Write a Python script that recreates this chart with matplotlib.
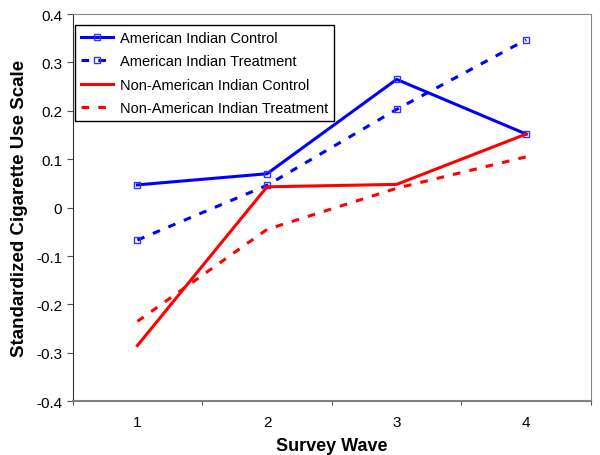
import matplotlib
matplotlib.use("Agg")
import matplotlib.pyplot as plt
import numpy as np

plt.rcParams['font.family'] = ['Liberation Sans', 'DejaVu Sans']

waves = [1, 2, 3, 4]
ai_control = [0.047, 0.070, 0.265, 0.152]
ai_treatment = [-0.067, 0.046, 0.203, 0.347]
nai_control = [-0.285, 0.043, 0.048, 0.152]
nai_treatment = [-0.235, -0.045, 0.040, 0.105]
yticks = [-0.4, -0.3, -0.2, -0.1, 0, 0.1, 0.2, 0.3, 0.4]
ytick_labels = ['-0.4', '-0.3', '-0.2', '-0.1', '0', '0.1', '0.2', '0.3', '0.4']

fig = plt.figure(figsize=(6, 4.56), dpi=100)
ax = fig.add_axes([0.121, 0.118, 0.864, 0.849])

lw = 2.2
ax.plot(waves, ai_control, color='#0000ff', lw=lw, marker='s', ms=5,
        mfc='none', mec='#3333ff', mew=1, label='American Indian Control')
ax.plot(waves, ai_treatment, color='#0000ff', lw=lw, ls=(0, (2.5, 3)), marker='s', ms=5,
        mfc='none', mec='#3333ff', mew=1, label='American Indian Treatment')
ax.plot(waves, nai_control, color='#ff0000', lw=lw, label='Non-American Indian Control')
ax.plot(waves, nai_treatment, color='#ff0000', lw=lw, ls=(0, (2.5, 3)),
        label='Non-American Indian Treatment')

ax.set_xlim(0.5, 4.5)
ax.set_ylim(-0.4, 0.4)
ax.set_xticks([0.5, 1.5, 2.5, 3.5, 4.5])
ax.set_xticklabels([])
ax.set_xticks(waves, minor=True)
ax.set_xticklabels([str(w) for w in waves], minor=True)
ax.tick_params(axis='x', which='minor', length=0, pad=10, labelsize=11)
ax.tick_params(axis='x', which='major', length=3, direction='out', color='#555555')
ax.set_yticks(yticks)
ax.set_yticklabels(ytick_labels)
ax.tick_params(axis='y', length=4, direction='out', labelsize=11, color='#555555')

ax.spines['left'].set_color('#333333')
ax.spines['bottom'].set_color('#808080')
ax.spines['bottom'].set_linewidth(1.5)
for side in ['top', 'right']:
    ax.spines[side].set_color('#888888')

ax.set_xlabel('Survey Wave', fontsize=13, fontweight='bold', labelpad=6)
ax.set_ylabel('Standardized Cigarette Use Scale', fontsize=13.5, fontweight='bold', labelpad=6)

leg = ax.legend(loc='upper left', bbox_to_anchor=(0.0044, 0.972), fontsize=10.5,
                frameon=True, fancybox=False, edgecolor='black', framealpha=1,
                handlelength=2.2, handletextpad=0.5, borderpad=0.4,
                borderaxespad=0.0, labelspacing=0.65)
leg.get_frame().set_linewidth(1)

fig.savefig('out.png', dpi=100)
